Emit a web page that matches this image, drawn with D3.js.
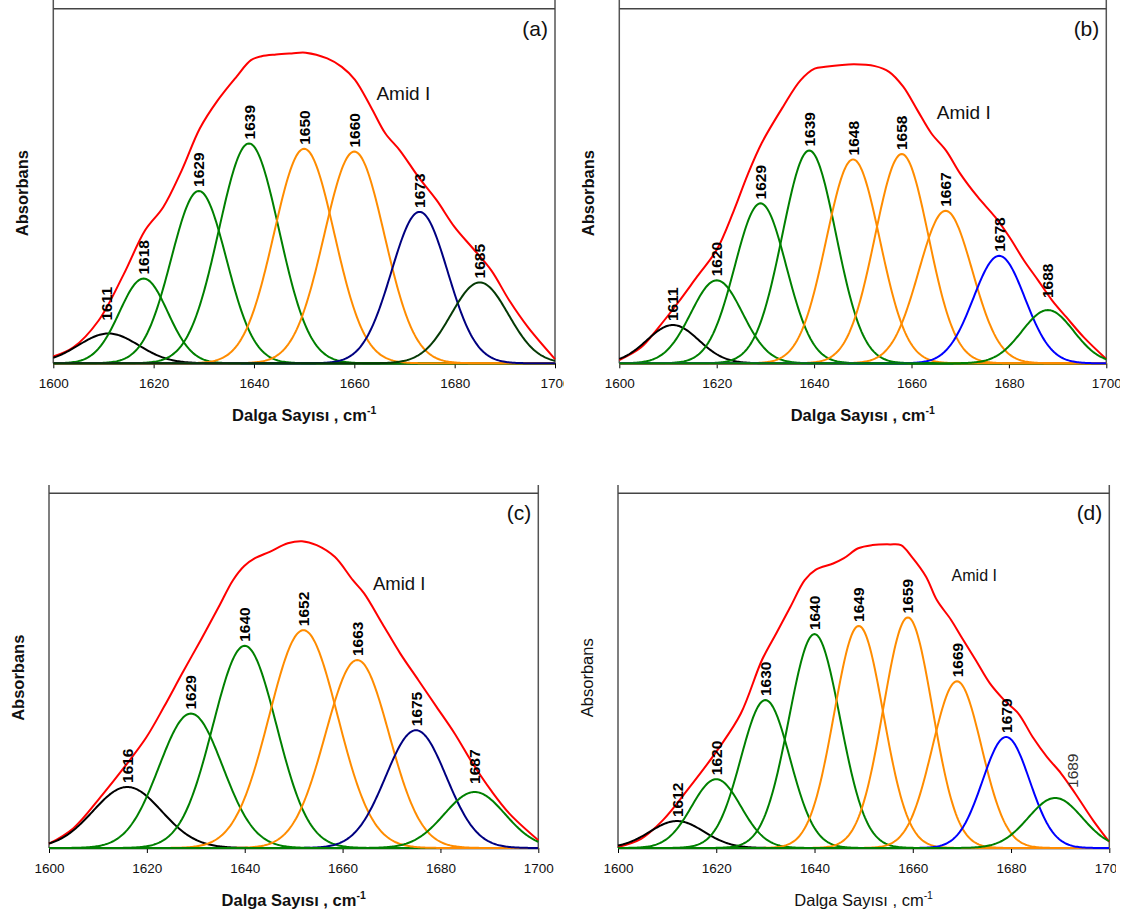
<!DOCTYPE html>
<html>
<head>
<meta charset="utf-8">
<script src="https://cdn.jsdelivr.net/npm/d3@7"></script>
<style>
  body { margin: 0; background: #fff; }
  svg { display: block; font-family: "Liberation Sans", Arial, sans-serif; }
</style>
</head>
<body>
<svg id="chart" width="1128" height="919"></svg>
<script>
// Amid I band fits: peak centre (cm-1), peak height (fraction of axis), gaussian sigma (cm-1)
const aCenters = [1611, 1618, 1629, 1639, 1650, 1660, 1673, 1685];
const aHeights = [0.084, 0.239, 0.486, 0.62, 0.605, 0.597, 0.427, 0.228];
const aSigmas  = [6.0, 4.8, 5.5, 6.0, 6.0, 6.0, 5.6, 5.7];

const bCenters = [1611, 1620, 1629, 1639, 1648, 1658, 1667, 1678, 1688];
const bHeights = [0.108, 0.234, 0.451, 0.60, 0.575, 0.59, 0.43, 0.303, 0.15];
const bSigmas  = [5.3, 5.3, 5.3, 5.5, 5.5, 5.5, 5.5, 5.3, 5.3];

const cCenters = [1616, 1629, 1640, 1652, 1663, 1675, 1687];
const cHeights = [0.172, 0.379, 0.57, 0.614, 0.53, 0.332, 0.158];
const cSigmas  = [7.0, 6.5, 6.5, 7.0, 6.5, 6.2, 6.2];

const dCenters = [1612, 1620, 1630, 1640, 1649, 1659, 1669, 1679, 1689];
const dHeights = [0.076, 0.194, 0.417, 0.603, 0.626, 0.65, 0.47, 0.313, 0.141];
const dSigmas  = [5.5, 5.0, 5.0, 5.2, 5.0, 5.0, 5.0, 4.8, 5.5];

const aEnvX = [1600, 1604, 1609, 1614, 1618.3, 1621.9, 1625.6, 1629.2, 1632.8, 1636.5, 1639.4, 1641.5, 1644.4, 1647.5, 1650.3, 1654.6, 1657.5, 1660.1, 1663.3, 1666.2, 1669.1, 1672.8, 1676.4, 1680, 1683.7, 1687.3, 1690.9, 1694.6, 1700];
const aEnvY = [0.019, 0.045, 0.12, 0.25, 0.375, 0.44, 0.544, 0.662, 0.742, 0.808, 0.855, 0.866, 0.871, 0.874, 0.876, 0.86, 0.836, 0.80, 0.723, 0.648, 0.60, 0.525, 0.46, 0.384, 0.323, 0.262, 0.177, 0.102, 0.012];

const bEnvX = [1600, 1604.5, 1608, 1612, 1616, 1620, 1623.5, 1626.3, 1629.2, 1633.6, 1637.2, 1640.1, 1642.3, 1648.1, 1652.5, 1655.4, 1658.3, 1661.2, 1664.1, 1667.1, 1670, 1673.6, 1677.2, 1680.1, 1683.1, 1686, 1688.9, 1691.8, 1695.4, 1700];
const bEnvY = [0.009, 0.045, 0.10, 0.17, 0.245, 0.32, 0.43, 0.53, 0.62, 0.723, 0.798, 0.831, 0.836, 0.843, 0.838, 0.822, 0.78, 0.714, 0.648, 0.60, 0.535, 0.469, 0.412, 0.356, 0.29, 0.234, 0.177, 0.13, 0.073, 0.012];

const cEnvX = [1600, 1605, 1610.9, 1615.4, 1619.8, 1623.5, 1627.2, 1631, 1634.7, 1637.6, 1639.9, 1642.1, 1645.1, 1648.8, 1651.7, 1654.7, 1658.4, 1662.1, 1664.4, 1668.1, 1671.8, 1675.5, 1679.2, 1682.9, 1686.6, 1690.3, 1694.1, 1700];
const cEnvY = [0.012, 0.056, 0.15, 0.228, 0.31, 0.398, 0.492, 0.586, 0.68, 0.755, 0.795, 0.817, 0.835, 0.859, 0.865, 0.854, 0.821, 0.755, 0.718, 0.633, 0.548, 0.473, 0.398, 0.323, 0.238, 0.163, 0.097, 0.022];

const dEnvX = [1600, 1604.7, 1609.1, 1614.1, 1620.7, 1625, 1629.3, 1632.2, 1635.1, 1638, 1640.2, 1643.8, 1646, 1648.9, 1651.8, 1655.4, 1657.6, 1659.8, 1662.7, 1664.9, 1667.8, 1669.9, 1672.8, 1675.7, 1678.6, 1681.5, 1684.4, 1687.3, 1690.2, 1693.1, 1696.7, 1700];
const dEnvY = [0.003, 0.026, 0.078, 0.163, 0.285, 0.379, 0.53, 0.605, 0.68, 0.755, 0.784, 0.802, 0.817, 0.845, 0.854, 0.856, 0.854, 0.821, 0.765, 0.699, 0.643, 0.595, 0.53, 0.464, 0.417, 0.379, 0.313, 0.257, 0.21, 0.153, 0.078, 0.017];

const xTicks = [1600, 1620, 1640, 1660, 1680, 1700];
const panelLetters = ["(a)", "(b)", "(c)", "(d)"];
const xTitle = "Dalga Sayısı , cm";
const yTitle = "Absorbans";
const envelopeLabel = "Amid I";

// colours per band (styles kept apart from values)
const GREEN = "#008000", ORANGE = "#ff8c00", NAVY = "#000080", BLUE = "#0000ff", BLACK = "#000";
const aColors = [BLACK, GREEN, GREEN, GREEN, ORANGE, ORANGE, NAVY, "#053a05"];
const bColors = [BLACK, GREEN, GREEN, GREEN, ORANGE, ORANGE, ORANGE, BLUE, GREEN];
const cColors = [BLACK, GREEN, GREEN, ORANGE, ORANGE, NAVY, GREEN];
const dColors = [BLACK, GREEN, GREEN, GREEN, ORANGE, ORANGE, ORANGE, BLUE, GREEN];

// layout of the four panels
const panels = [
  {centers: aCenters, heights: aHeights, sigmas: aSigmas, colors: aColors, envX: aEnvX, envY: aEnvY,
   x0: 53.3, x1: 555, yTop: 8.7, yBase: 363.3, frameTop: 0, clipRight: 564,
   bold: true, amidAt: [1664.4, 0.743], amidSize: 19},
  {centers: bCenters, heights: bHeights, sigmas: bSigmas, colors: bColors, envX: bEnvX, envY: bEnvY,
   x0: 619.3, x1: 1106.3, yTop: 8.7, yBase: 363.3, frameTop: 0, clipRight: 1120,
   bold: true, amidAt: [1665.2, 0.688], amidSize: 19},
  {centers: cCenters, heights: cHeights, sigmas: cSigmas, colors: cColors, envX: cEnvX, envY: cEnvY,
   x0: 49, x1: 538.3, yTop: 493.3, yBase: 848, frameTop: 485, clipRight: 1128,
   bold: true, amidAt: [1666.2, 0.727], amidSize: 18.5},
  {centers: dCenters, heights: dHeights, sigmas: dSigmas, colors: dColors, envX: dEnvX, envY: dEnvY,
   x0: 618, x1: 1109.3, yTop: 493.3, yBase: 848, frameTop: 485, clipRight: 1116,
   bold: false, amidAt: [1667.9, 0.753], amidSize: 16}
];

// labels that sit away from their peak top: [dx cm-1, extra lift px, bold]
const labelNudge = {
  "0-1611": [-0.5, 9, true],
  "1-1688": [0, 8, true],
  "2-1687": [0, 4, true],
  "3-1689": [3.5, 6, false]
};

const svg = d3.select("#chart");
const xs = d3.range(1600, 1700.001, 0.25);

panels.forEach((p, pi) => {
  const x = d3.scaleLinear().domain([1600, 1700]).range([p.x0, p.x1]);
  const y = d3.scaleLinear().domain([0, 1]).range([p.yBase, p.yTop]);

  svg.append("clipPath").attr("id", "clip" + pi)
    .append("rect").attr("x", p.x0 - 60).attr("y", p.frameTop - 10)
    .attr("width", p.clipRight - p.x0 + 60).attr("height", 460);

  const g = svg.append("g").attr("clip-path", `url(#clip${pi})`);

  const band = (i, w) => p.heights[i] * Math.exp(-Math.pow(w - p.centers[i], 2) / (2 * p.sigmas[i] * p.sigmas[i]));
  const line = d3.line().x(d => x(d[0])).y(d => y(d[1]));
  const smooth = d3.line().x(d => x(d[0])).y(d => y(d[1])).curve(d3.curveCatmullRom.alpha(0.5));

  // frame
  g.append("line").attr("x1", p.x0).attr("x2", p.x0).attr("y1", p.frameTop).attr("y2", p.yBase)
    .attr("stroke", "#555").attr("stroke-width", 1.5);
  g.append("line").attr("x1", p.x1).attr("x2", p.x1).attr("y1", p.frameTop).attr("y2", p.yBase)
    .attr("stroke", "#555").attr("stroke-width", 1.5);
  g.append("line").attr("x1", p.x0).attr("x2", p.x1).attr("y1", p.yTop).attr("y2", p.yTop)
    .attr("stroke", "#444").attr("stroke-width", 1.5);

  // x axis
  const ax = g.append("g").attr("transform", `translate(0,${p.yBase})`)
    .call(d3.axisBottom(x).tickValues(xTicks).tickSizeInner(5).tickSizeOuter(0)
      .tickPadding(10).tickFormat(d3.format("d")));
  ax.select(".domain").attr("stroke", "#000").attr("stroke-width", 1.3);
  ax.selectAll(".tick line").attr("stroke", "#000").attr("stroke-width", 1);
  ax.selectAll(".tick text").attr("font-size", 13.5).attr("fill", "#111")
    .attr("font-family", '"Liberation Sans", Arial, sans-serif');

  // envelope
  const env = p.envX.map((w, i) => [w, p.envY[i]]);
  g.append("path").datum(env).attr("d", smooth)
    .attr("fill", "none").attr("stroke", "#ff0000").attr("stroke-width", 2);

  // component bands
  p.centers.forEach((c, i) => {
    const pts = xs.map(w => [w, band(i, w)]);
    g.append("path").datum(pts).attr("d", line)
      .attr("fill", "none").attr("stroke", p.colors[i]).attr("stroke-width", 2);
  });

  // peak labels
  p.centers.forEach((c, i) => {
    const nudge = labelNudge[pi + "-" + c] || [0, 0, true];
    const lx = x(c + nudge[0]);
    const ly = y(p.heights[i]) - 4 - nudge[1];
    g.append("text")
      .attr("transform", `translate(${lx},${ly}) rotate(-90)`)
      .attr("dy", "0.36em")
      .attr("font-size", 15.5)
      .attr("font-weight", nudge[2] ? "bold" : "normal")
      .attr("fill", nudge[2] ? "#000" : "#333")
      .text(c);
  });

  // Amid I
  g.append("text").attr("x", x(p.amidAt[0])).attr("y", y(p.amidAt[1]))
    .attr("font-size", p.amidSize).attr("fill", "#111").text(envelopeLabel);

  // panel letter
  g.append("text").attr("x", p.x1 - 7).attr("y", p.yTop + 27)
    .attr("text-anchor", "end").attr("font-size", 21).attr("fill", "#111")
    .text(panelLetters[pi]);

  // axis titles
  g.append("text")
    .attr("transform", `translate(${p.x0 - 25},${p.yTop + (p.yBase - p.yTop) * 0.52}) rotate(-90)`)
    .attr("text-anchor", "middle").attr("font-size", 16.5)
    .attr("font-weight", p.bold ? "bold" : "normal").attr("fill", "#111")
    .text(yTitle);

  const xt = g.append("text").attr("x", (p.x0 + p.x1) / 2).attr("y", p.yBase + 58)
    .attr("text-anchor", "middle").attr("font-size", 16.5)
    .attr("font-weight", p.bold ? "bold" : "normal").attr("fill", "#111");
  xt.append("tspan").text(xTitle);
  xt.append("tspan").attr("font-size", 10.5).attr("dy", -7).text("-1");
});
</script>
</body>
</html>
